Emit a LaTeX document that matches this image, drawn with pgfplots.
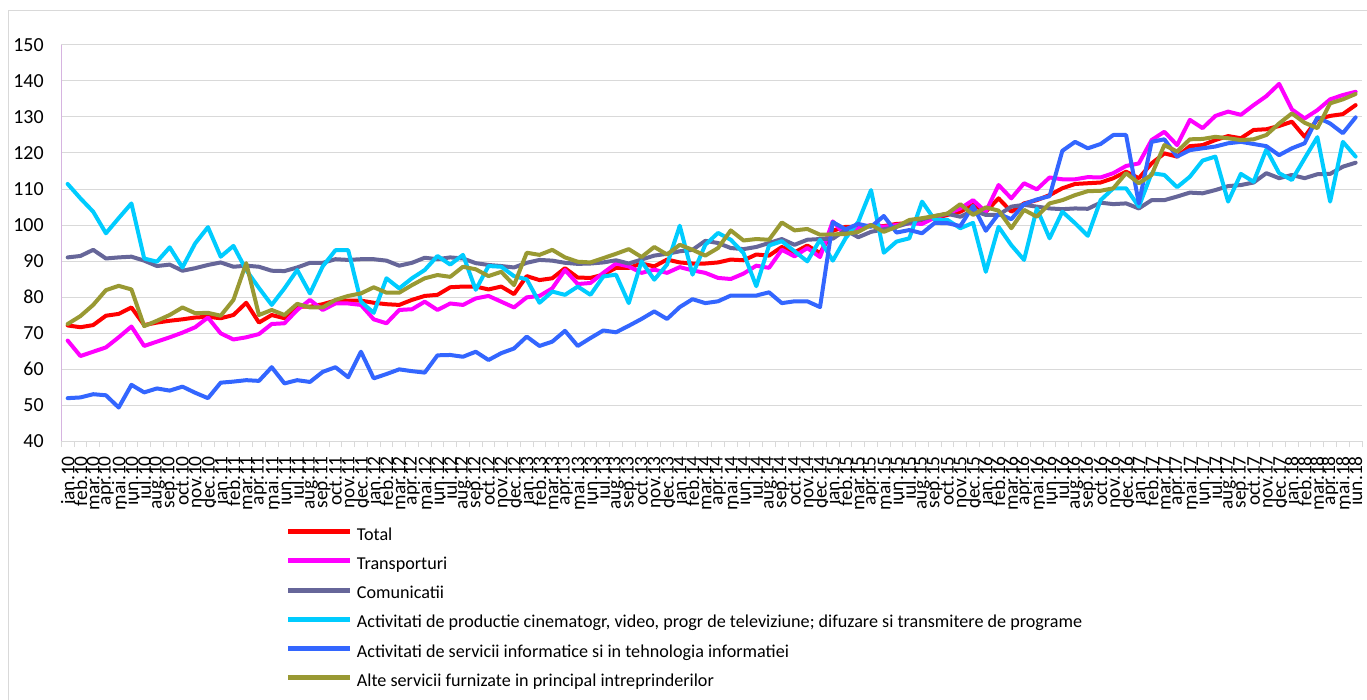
\documentclass[border=0pt]{standalone}
\usepackage{fontspec}
\setmainfont{Carlito}
\usepackage{pgfplots}
\usepackage{pgfplotstable}
\pgfplotsset{compat=1.18}
\definecolor{cTot}{RGB}{255,0,0}
\definecolor{cTra}{RGB}{255,0,255}
\definecolor{cCom}{RGB}{102,102,153}
\definecolor{cCin}{RGB}{0,204,255}
\definecolor{cIT}{RGB}{51,102,255}
\definecolor{cAlt}{RGB}{153,153,51}
\definecolor{gridc}{RGB}{217,217,217}
\definecolor{axisl}{RGB}{214,180,224}

\pgfplotstableread{
lab T P C V B A
ian.10 72.1 67.9 91.0 111.4 51.9 72.5
feb.10 71.6 63.6 91.4 107.4 52.1 74.7
mar.10 72.2 64.8 93.1 103.7 53.0 77.8
apr.10 74.8 66.0 90.7 97.7 52.7 81.9
mai.10 75.3 68.8 91.0 101.9 49.3 83.1
iun.10 77.1 71.8 91.2 106.0 55.6 82.1
iul.10 72.2 66.4 90.1 90.7 53.5 71.9
aug.10 72.9 67.6 88.6 89.8 54.6 73.4
sep.10 73.4 68.8 89.0 93.8 54.0 75.0
oct.10 73.8 70.1 87.3 88.2 55.1 77.1
nov.10 74.3 71.6 88.0 94.9 53.4 75.5
dec.10 74.5 74.3 88.9 99.4 51.9 75.6
ian.11 74.1 69.9 89.6 91.2 56.2 74.8
feb.11 75.0 68.2 88.4 94.2 56.5 79.2
mar.11 78.4 68.8 88.7 87.5 56.9 89.4
apr.11 72.9 69.7 88.4 82.5 56.7 75.0
mai.11 75.0 72.5 87.3 77.8 60.5 76.4
iun.11 74.1 72.7 87.2 82.4 56.0 75.0
iul.11 77.3 76.4 88.2 87.5 56.9 78.1
aug.11 77.3 79.2 89.5 81.0 56.4 77.1
sep.11 78.0 76.4 89.5 88.5 59.2 77.1
oct.11 79.0 78.2 90.5 93.0 60.5 79.2
nov.11 79.0 78.2 90.3 93.0 57.7 80.3
dec.11 79.0 77.8 90.5 78.7 64.8 81.0
ian.12 78.4 73.8 90.5 75.6 57.4 82.7
feb.12 78.0 72.7 90.1 85.2 58.6 81.2
mar.12 77.8 76.4 88.7 82.4 59.9 81.2
apr.12 79.2 76.6 89.5 85.2 59.4 83.3
mai.12 80.3 78.7 90.9 87.5 59.0 85.2
iun.12 80.6 76.4 90.5 91.4 63.8 86.1
iul.12 82.7 78.2 91.0 89.0 63.9 85.6
aug.12 82.9 77.8 90.7 91.7 63.4 88.4
sep.12 82.9 79.6 89.4 82.0 64.8 87.7
oct.12 82.1 80.3 88.9 88.6 62.5 85.8
nov.12 82.9 78.7 88.6 88.4 64.4 87.0
dec.12 80.8 77.1 88.2 85.8 65.7 83.3
ian.13 85.8 79.9 89.5 84.9 69.0 92.3
feb.13 84.7 80.3 90.3 78.4 66.4 91.7
mar.13 85.2 82.4 90.1 81.5 67.6 93.1
apr.13 88.0 87.5 89.5 80.6 70.6 91.0
mai.13 85.4 83.6 89.2 82.9 66.4 89.8
iun.13 85.3 83.9 89.3 80.6 68.6 89.6
iul.13 86.2 86.7 89.6 85.7 70.7 90.8
aug.13 88.1 89.3 90.2 86.2 70.2 92.0
sep.13 88.1 88.5 89.3 78.3 72.0 93.3
oct.13 89.3 86.7 90.4 89.9 73.9 91.1
nov.13 88.5 87.6 91.5 84.8 76.0 93.9
dec.13 90.4 86.7 92.0 89.0 73.9 91.8
ian.14 89.6 88.3 92.7 99.8 77.2 94.5
feb.14 89.3 87.4 93.1 86.2 79.4 93.1
mar.14 89.3 86.7 95.6 94.5 78.3 91.5
apr.14 89.6 85.3 95.0 97.8 78.8 93.6
mai.14 90.4 85.0 93.6 95.9 80.4 98.5
iun.14 90.2 86.5 93.3 92.2 80.4 95.7
iul.14 91.8 88.7 93.9 83.0 80.4 96.1
aug.14 91.5 88.1 95.0 94.3 81.3 95.9
sep.14 93.9 93.1 96.1 95.5 78.3 100.7
oct.14 92.4 91.3 94.5 92.7 78.8 98.5
nov.14 94.3 93.6 95.9 89.9 78.8 98.9
dec.14 92.2 91.1 96.1 95.9 77.2 97.3
ian.15 98.4 101.0 96.2 90.1 100.8 97.4
feb.15 99.5 97.2 98.6 96.3 98.8 97.5
mar.15 99.5 99.1 96.6 100.9 100.3 98.1
apr.15 99.8 100.0 98.1 109.7 99.5 100.0
mai.15 99.7 99.5 98.8 92.3 102.5 98.1
iun.15 100.3 100.0 99.5 95.4 97.9 99.5
iul.15 100.5 100.5 100.6 96.3 98.6 101.4
aug.15 100.9 100.3 101.6 106.5 97.7 101.9
sep.15 101.9 102.1 102.5 101.4 100.6 102.5
oct.15 102.8 103.2 103.1 101.4 100.5 103.2
nov.15 103.7 104.6 102.3 99.1 99.7 105.8
dec.15 105.6 106.9 104.0 100.6 105.3 102.8
ian.16 103.7 103.7 102.8 87.0 98.4 104.9
feb.16 107.4 111.1 102.8 99.5 103.1 104.0
mar.16 103.7 107.4 105.1 94.4 101.6 99.1
apr.16 106.0 111.6 105.6 90.3 105.8 104.2
mai.16 106.9 109.9 105.1 104.6 107.1 102.3
iun.16 108.3 113.2 104.6 96.3 108.0 106.0
iul.16 110.2 112.7 104.4 103.7 120.6 106.9
aug.16 111.4 112.7 104.6 100.5 123.1 108.3
sep.16 111.6 113.3 104.5 97.0 121.3 109.4
oct.16 111.8 113.2 106.2 106.9 122.5 109.5
nov.16 113.0 114.4 105.8 110.2 125.0 110.2
dec.16 114.8 116.4 106.0 110.2 125.0 114.4
ian.17 113.0 117.1 104.6 105.1 106.0 111.6
feb.17 117.1 123.6 106.9 114.4 123.1 113.9
mar.17 119.9 125.9 106.9 113.9 123.8 122.2
apr.17 119.0 122.2 107.9 110.5 119.0 120.4
mai.17 121.9 129.2 109.0 113.4 120.8 123.8
iun.17 122.2 126.9 108.8 117.9 121.3 123.9
iul.17 123.6 130.3 109.7 119.0 121.8 124.5
aug.17 124.7 131.5 110.8 106.5 122.7 124.1
sep.17 124.1 130.6 111.1 114.2 123.1 123.6
oct.17 126.4 133.3 111.8 112.0 122.5 123.8
nov.17 126.6 135.8 114.4 121.0 121.9 125.0
dec.17 127.5 139.2 113.0 114.4 119.4 128.2
ian.18 128.7 132.1 113.9 112.5 121.3 131.0
feb.18 124.5 129.6 113.0 118.5 122.7 128.4
mar.18 129.4 131.9 114.1 124.4 129.9 126.9
apr.18 130.3 134.9 114.2 106.5 128.2 133.8
mai.18 130.8 136.1 116.2 123.1 125.5 134.9
iun.18 133.3 137.0 117.3 119.0 129.9 136.4
}\data

\begin{document}
\begin{tikzpicture}
\useasboundingbox (-61.3bp,-259bp) rectangle (1305.7bp,441bp);
\fill[white] (-61.3bp,-259bp) rectangle (1305.7bp,441bp);
\draw[gridc, line width=1bp] (-52.3bp,-262bp) -- (-52.3bp,430bp) -- (1310bp,430bp);
\begin{axis}[
  scale only axis, width=1300.7bp, height=396bp,
  xmin=-0.5, xmax=101.5, ymin=40, ymax=150,
  axis x line*=bottom, axis y line*=left,
  x axis line style={gridc, line width=1bp},
  y axis line style={axisl, line width=1bp},
  ytick={40,50,...,150},
  ymajorgrids, major grid style={gridc, line width=1bp},
  xtick={0,...,101},
  xticklabels from table={\data}{lab},
  minor xtick={-0.5,0.5,...,101.5},
  tick align=outside,
  major tick length=0pt,
  minor tick length=6bp,
  minor tick style={gridc, line width=1bp},
  /pgf/number format/assume math mode=true,
  xticklabel style={yshift=-15bp, rotate=90, anchor=east, inner sep=0pt, font=\fontsize{19.5}{20}\selectfont},
  yticklabel style={xshift=-17.5bp, anchor=east, inner sep=0pt, font=\fontsize{20}{20}\selectfont},
  no markers,
  every axis plot/.append style={line width=4bp, line join=round, line cap=round},
  legend cell align=left,
  legend style={at={(axis description cs:0.1725,-0.2197)}, anchor=north west,
    draw=none, fill=none, inner sep=0pt, row sep=13.2bp,
    font=\fontsize{18.2}{20}\selectfont,
    nodes={inner sep=0pt, text height=12bp, text depth=4bp},
    /tikz/every odd column/.append style={column sep=4bp}},
  legend image code/.code={\draw[#1, line width=5bp, line cap=butt] (0bp,4.5bp) -- (62bp,4.5bp);},
]
\addplot[cTot] table[x expr=\coordindex, y=T] {\data};
\addlegendentry{Total}
\addplot[cTra] table[x expr=\coordindex, y=P] {\data};
\addlegendentry{Transporturi}
\addplot[cCom] table[x expr=\coordindex, y=C] {\data};
\addlegendentry{Comunicatii}
\addplot[cCin] table[x expr=\coordindex, y=V] {\data};
\addlegendentry{Activitati de productie cinematogr, video, progr de televiziune; difuzare si transmitere de programe}
\addplot[cIT] table[x expr=\coordindex, y=B] {\data};
\addlegendentry{Activitati de servicii informatice si in tehnologia informatiei}
\addplot[cAlt] table[x expr=\coordindex, y=A] {\data};
\addlegendentry{Alte servicii furnizate in principal intreprinderilor}
\end{axis}
\end{tikzpicture}
\end{document}
